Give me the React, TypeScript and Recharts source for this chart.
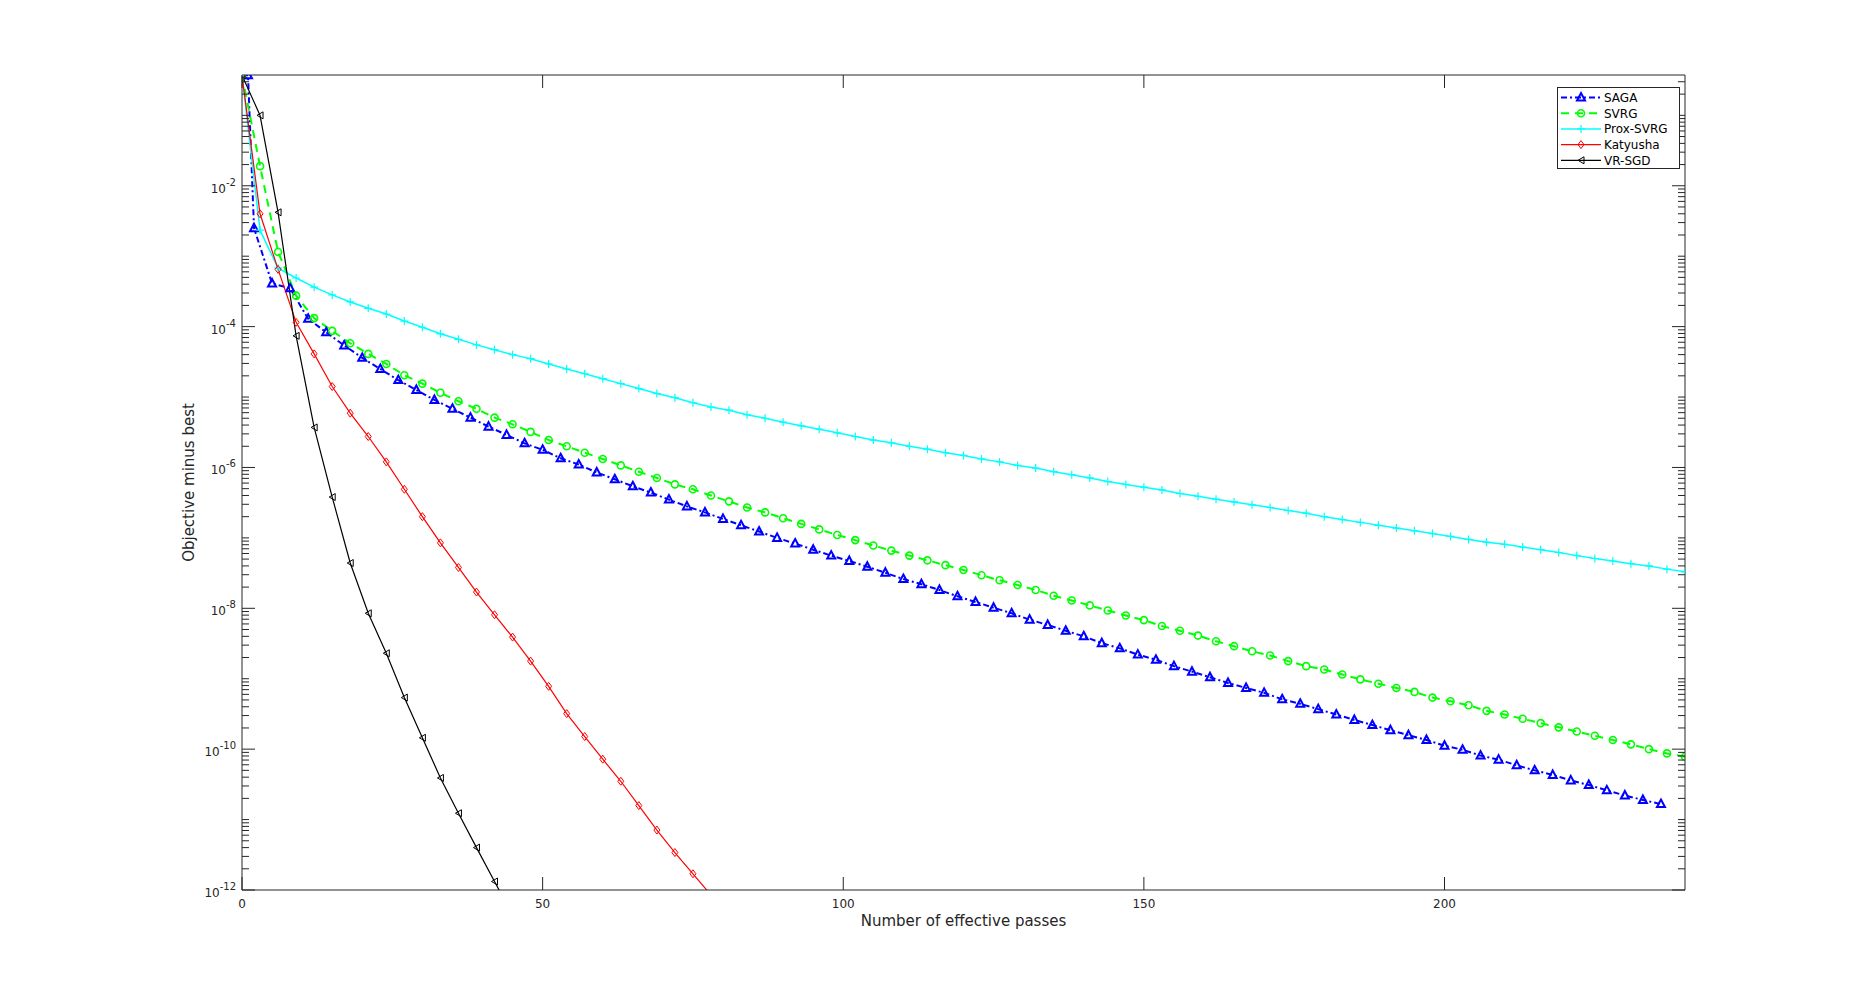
import React from "react";
import { LineChart, Line, XAxis, YAxis, Legend } from "recharts";

// passes at which each method was evaluated
const PASSES = [
  0, 3, 6, 9, 12, 15, 18, 21, 24, 27, 30, 33, 36, 39, 42, 45, 48, 51, 54, 57,
  60, 63, 66, 69, 72, 75, 78, 81, 84, 87, 90, 93, 96, 99, 102, 105, 108, 111,
  114, 117, 120, 123, 126, 129, 132, 135, 138, 141, 144, 147, 150, 153, 156,
  159, 162, 165, 168, 171, 174, 177, 180, 183, 186, 189, 192, 195, 198, 201,
  204, 207, 210, 213, 216, 219, 222, 225, 228, 231, 234, 237, 240,
];
const SAGA_PASSES = [
  0, 1, 2, 5, 8, 11, 14, 17, 20, 23, 26, 29, 32, 35, 38, 41, 44, 47, 50, 53,
  56, 59, 62, 65, 68, 71, 74, 77, 80, 83, 86, 89, 92, 95, 98, 101, 104, 107,
  110, 113, 116, 119, 122, 125, 128, 131, 134, 137, 140, 143, 146, 149, 152,
  155, 158, 161, 164, 167, 170, 173, 176, 179, 182, 185, 188, 191, 194, 197,
  200, 203, 206, 209, 212, 215, 218, 221, 224, 227, 230, 233, 236,
];

const SAGA = [
  0.37, 0.37, 2.5e-3, 4.1e-4, 3.5e-4, 1.29e-4, 8.3e-5, 5.4e-5, 3.6e-5, 2.5e-5,
  1.74e-5, 1.26e-5, 9.1e-6, 6.8e-6, 5.1e-6, 3.8e-6, 2.9e-6, 2.2e-6, 1.78e-6,
  1.35e-6, 1.1e-6, 8.5e-7, 6.8e-7, 5.4e-7, 4.4e-7, 3.5e-7, 2.8e-7, 2.3e-7,
  1.86e-7, 1.51e-7, 1.23e-7, 1.0e-7, 8.3e-8, 6.8e-8, 5.6e-8, 4.7e-8, 3.9e-8,
  3.2e-8, 2.6e-8, 2.2e-8, 1.82e-8, 1.48e-8, 1.23e-8, 1.02e-8, 8.5e-9, 6.9e-9,
  5.8e-9, 4.8e-9, 4.0e-9, 3.2e-9, 2.7e-9, 2.2e-9, 1.86e-9, 1.51e-9, 1.26e-9,
  1.05e-9, 8.7e-10, 7.4e-10, 6.3e-10, 5.1e-10, 4.4e-10, 3.7e-10, 3.1e-10,
  2.6e-10, 2.2e-10, 1.86e-10, 1.58e-10, 1.35e-10, 1.12e-10, 9.8e-11, 8.1e-11,
  7.1e-11, 5.9e-11, 5.0e-11, 4.3e-11, 3.6e-11, 3.1e-11, 2.6e-11, 2.2e-11,
  1.9e-11, 1.66e-11,
];
const SVRG = [
  0.37, 1.9e-2, 1.15e-3, 2.75e-4, 1.32e-4, 8.7e-5, 5.8e-5, 4.1e-5, 2.95e-5,
  2.04e-5, 1.55e-5, 1.15e-5, 8.7e-6, 6.8e-6, 5.1e-6, 4.1e-6, 3.2e-6, 2.45e-6,
  2.0e-6, 1.62e-6, 1.32e-6, 1.07e-6, 8.7e-7, 7.1e-7, 5.75e-7, 4.9e-7, 4.0e-7,
  3.3e-7, 2.7e-7, 2.3e-7, 1.9e-7, 1.58e-7, 1.32e-7, 1.1e-7, 9.3e-8, 7.8e-8,
  6.6e-8, 5.6e-8, 4.8e-8, 4.1e-8, 3.5e-8, 2.95e-8, 2.5e-8, 2.14e-8, 1.82e-8,
  1.51e-8, 1.29e-8, 1.1e-8, 9.3e-9, 7.9e-9, 6.8e-9, 5.6e-9, 4.8e-9, 4.1e-9,
  3.4e-9, 2.9e-9, 2.45e-9, 2.14e-9, 1.78e-9, 1.51e-9, 1.35e-9, 1.15e-9,
  9.8e-10, 8.5e-10, 7.4e-10, 6.5e-10, 5.4e-10, 4.8e-10, 4.2e-10, 3.5e-10,
  3.1e-10, 2.7e-10, 2.34e-10, 2.04e-10, 1.78e-10, 1.55e-10, 1.35e-10,
  1.17e-10, 1.0e-10, 8.7e-11, 7.8e-11,
];
const PROX_SVRG = [
  0.372, 2.34e-3, 6.76e-4, 4.9e-4, 3.63e-4, 2.82e-4, 2.24e-4, 1.82e-4, 1.51e-4,
  1.2e-4, 9.8e-5, 7.9e-5, 6.6e-5, 5.5e-5, 4.7e-5, 4.0e-5, 3.5e-5, 2.95e-5,
  2.5e-5, 2.14e-5, 1.82e-5, 1.55e-5, 1.32e-5, 1.12e-5, 9.8e-6, 8.3e-6, 7.2e-6,
  6.5e-6, 5.6e-6, 5.0e-6, 4.4e-6, 3.9e-6, 3.5e-6, 3.1e-6, 2.75e-6, 2.45e-6,
  2.24e-6, 2.0e-6, 1.82e-6, 1.62e-6, 1.48e-6, 1.32e-6, 1.2e-6, 1.07e-6,
  9.8e-7, 8.7e-7, 7.9e-7, 7.1e-7, 6.3e-7, 5.75e-7, 5.25e-7, 4.8e-7, 4.27e-7,
  3.9e-7, 3.55e-7, 3.24e-7, 2.95e-7, 2.7e-7, 2.45e-7, 2.24e-7, 2.0e-7,
  1.82e-7, 1.66e-7, 1.51e-7, 1.38e-7, 1.26e-7, 1.15e-7, 1.05e-7, 9.5e-8,
  8.7e-8, 8.1e-8, 7.4e-8, 6.8e-8, 6.2e-8, 5.6e-8, 5.1e-8, 4.7e-8, 4.3e-8,
  4.0e-8, 3.6e-8, 3.3e-8,
];
const KATYUSHA = [
  0.37, 4.0e-3, 6.5e-4, 1.15e-4, 4.1e-5, 1.41e-5, 5.9e-6, 2.75e-6, 1.2e-6,
  4.9e-7, 2.0e-7, 8.5e-8, 3.8e-8, 1.7e-8, 8.1e-9, 3.9e-9, 1.78e-9, 7.8e-10,
  3.2e-10, 1.51e-10, 7.2e-11, 3.5e-11, 1.58e-11, 7.1e-12, 3.4e-12, 1.7e-12,
  8.5e-13,
];
const VR_SGD = [
  0.37, 0.1, 4.2e-3, 7.4e-5, 3.7e-6, 3.8e-7, 4.4e-8, 8.5e-9, 2.3e-9, 5.4e-10,
  1.45e-10, 3.9e-11, 1.23e-11, 4.0e-12, 1.32e-12, 4.4e-13,
];

const X_TICKS = [0, 50, 100, 150, 200];
const Y_LABEL_EXPONENTS = [-12, -10, -8, -6, -4, -2];
const X_DOMAIN = [0, 240];
const Y_DOMAIN = [1e-12, 0.374];

const AXIS = "#262626";
const FONT = "'DejaVu Sans', sans-serif";
const MAJOR = 13;
const MINOR = 7;

// log axis: every m*10^e inside the domain gets a tick
const Y_TICKS: number[] = [];
for (let e = -12; e <= -1; e++) {
  for (let m = 1; m <= 9; m++) {
    const v = m * Math.pow(10, e);
    if (v <= Y_DOMAIN[1]) Y_TICKS.push(v);
  }
}

const labelledExp = (v: number) => {
  const e = Math.log10(v);
  const r = Math.round(e);
  if (Math.abs(e - r) > 1e-6) return null;
  return Y_LABEL_EXPONENTS.includes(r) ? r : null;
};

const SERIES = [
  { name: "SAGA", x: SAGA_PASSES, y: SAGA, color: "#0000ff", width: 2, dash: "6 3 2 3", marker: "triangle" },
  { name: "SVRG", x: PASSES, y: SVRG, color: "#00ff00", width: 2, dash: "8 6", marker: "circle" },
  { name: "Prox-SVRG", x: PASSES, y: PROX_SVRG, color: "#00ffff", width: 1.5, dash: undefined, marker: "plus" },
  { name: "Katyusha", x: PASSES, y: KATYUSHA, color: "#ff0000", width: 1.2, dash: undefined, marker: "diamond" },
  { name: "VR-SGD", x: PASSES, y: VR_SGD, color: "#000000", width: 1.2, dash: undefined, marker: "left" },
];

const Marker = ({ kind, cx, cy, color, width }: any) => {
  if (cx == null || cy == null || isNaN(cx) || isNaN(cy)) return null;
  switch (kind) {
    case "triangle":
      return (
        <polygon
          points={`${cx},${cy - 4.5} ${cx + 4},${cy + 3} ${cx - 4},${cy + 3}`}
          fill="none"
          stroke={color}
          strokeWidth={width}
        />
      );
    case "circle":
      return <circle cx={cx} cy={cy} r={3.5} fill="none" stroke={color} strokeWidth={1.6} />;
    case "plus":
      return (
        <path
          d={`M${cx - 4},${cy}H${cx + 4}M${cx},${cy - 4}V${cy + 4}`}
          stroke={color}
          strokeWidth={1.2}
        />
      );
    case "diamond":
      return (
        <polygon
          points={`${cx},${cy - 4} ${cx + 3},${cy} ${cx},${cy + 4} ${cx - 3},${cy}`}
          fill="none"
          stroke={color}
          strokeWidth={1}
        />
      );
    default:
      return (
        <polygon
          points={`${cx - 3},${cy} ${cx + 3},${cy - 3.5} ${cx + 3},${cy + 3.5}`}
          fill="none"
          stroke={color}
          strokeWidth={1}
        />
      );
  }
};

const LeftTick = ({ x, y, payload }: any) => {
  const exp = labelledExp(payload.value);
  return (
    <g>
      <line x1={x} x2={x + (exp != null ? MAJOR : MINOR)} y1={y} y2={y} stroke={AXIS} />
      {exp != null && (
        <text x={x - 6} y={y + 7} textAnchor="end" fontSize={12} fill={AXIS} fontFamily={FONT}>
          10
          <tspan dy={-7} fontSize={10}>
            {`${exp}`}
          </tspan>
        </text>
      )}
    </g>
  );
};

const RightTick = ({ x, y, payload }: any) => {
  const exp = labelledExp(payload.value);
  return <line x1={x} x2={x - (exp != null ? MAJOR : MINOR)} y1={y} y2={y} stroke={AXIS} />;
};

const BottomTick = ({ x, y, payload }: any) => (
  <g>
    <line x1={x} x2={x} y1={y} y2={y - MAJOR} stroke={AXIS} />
    <text x={x} y={y + 18} textAnchor="middle" fontSize={12} fill={AXIS} fontFamily={FONT}>
      {payload.value}
    </text>
  </g>
);

const TopTick = ({ x, y }: any) => <line x1={x} x2={x} y1={y} y2={y + MAJOR} stroke={AXIS} />;

const LegendBox = () => (
  <svg width={123} height={82} style={{ display: "block" }}>
    <rect x={0.5} y={0.5} width={122} height={81} fill="#fff" stroke={AXIS} />
    {SERIES.map((s, i) => {
      const cy = 10.5 + i * 15.7;
      return (
        <g key={s.name}>
          <line x1={4} x2={44} y1={cy} y2={cy} stroke={s.color} strokeWidth={s.width} strokeDasharray={s.dash} />
          <Marker kind={s.marker} cx={24} cy={cy} color={s.color} width={s.width} />
          <text x={47} y={cy + 4.5} fontSize={12} fill="#000" fontFamily={FONT}>
            {s.name}
          </text>
        </g>
      );
    })}
  </svg>
);

export default function App() {
  return (
    <div style={{ position: "absolute", left: 0, top: 0, background: "#fff", fontFamily: FONT }}>
      <LineChart width={1863} height={1001} margin={{ top: 74, right: 177, bottom: 110, left: 241 }}>
        <XAxis
          xAxisId="b"
          type="number"
          dataKey="x"
          domain={X_DOMAIN}
          allowDataOverflow
          ticks={X_TICKS}
          interval={0}
          height={1}
          tickSize={0}
          tickMargin={0}
          tickLine={false}
          axisLine={{ stroke: AXIS }}
          tick={<BottomTick />}
          label={{
            content: ({ viewBox }: any) => (
              <text
                x={viewBox.x + viewBox.width / 2}
                y={viewBox.y + 36}
                textAnchor="middle"
                fontSize={15}
                fill={AXIS}
                fontFamily={FONT}
              >
                Number of effective passes
              </text>
            ),
          }}
        />
        <XAxis
          xAxisId="t"
          orientation="top"
          type="number"
          dataKey="x"
          domain={X_DOMAIN}
          allowDataOverflow
          ticks={X_TICKS}
          interval={0}
          height={1}
          tickSize={0}
          tickMargin={0}
          tickLine={false}
          axisLine={{ stroke: AXIS }}
          tick={<TopTick />}
        />
        <YAxis
          yAxisId="l"
          scale="log"
          domain={Y_DOMAIN}
          allowDataOverflow
          ticks={Y_TICKS}
          interval={0}
          width={1}
          tickSize={0}
          tickMargin={0}
          tickLine={false}
          axisLine={{ stroke: AXIS }}
          tick={<LeftTick />}
          label={{
            content: ({ viewBox }: any) => {
              const cx = viewBox.x - 52;
              const cy = viewBox.y + viewBox.height / 2;
              return (
                <text
                  x={cx}
                  y={cy}
                  transform={`rotate(-90 ${cx} ${cy})`}
                  textAnchor="middle"
                  dominantBaseline="central"
                  fontSize={15}
                  fill={AXIS}
                  fontFamily={FONT}
                >
                  Objective minus best
                </text>
              );
            },
          }}
        />
        <YAxis
          yAxisId="r"
          orientation="right"
          scale="log"
          domain={Y_DOMAIN}
          allowDataOverflow
          ticks={Y_TICKS}
          interval={0}
          width={1}
          tickSize={0}
          tickMargin={0}
          tickLine={false}
          axisLine={{ stroke: AXIS }}
          tick={<RightTick />}
        />
        <Legend
          layout="vertical"
          align="center"
          verticalAlign="middle"
          content={() => <LegendBox />}
          wrapperStyle={{ left: 1557, top: 87, width: 123, height: 82, right: "auto", bottom: "auto" }}
        />
        {SERIES.map((s) => (
          <Line
            key={s.name}
            name={s.name}
            xAxisId="b"
            yAxisId="l"
            type="linear"
            data={s.x.map((x, i) => ({ x, y: s.y[i] }))}
            dataKey="y"
            stroke={s.color}
            strokeWidth={s.width}
            strokeDasharray={s.dash}
            dot={(p: any) => (
              <Marker key={`${s.name}-${p.index}`} kind={s.marker} cx={p.cx} cy={p.cy} color={s.color} width={s.width} />
            )}
            activeDot={false}
            isAnimationActive={false}
          />
        ))}
      </LineChart>
    </div>
  );
}
